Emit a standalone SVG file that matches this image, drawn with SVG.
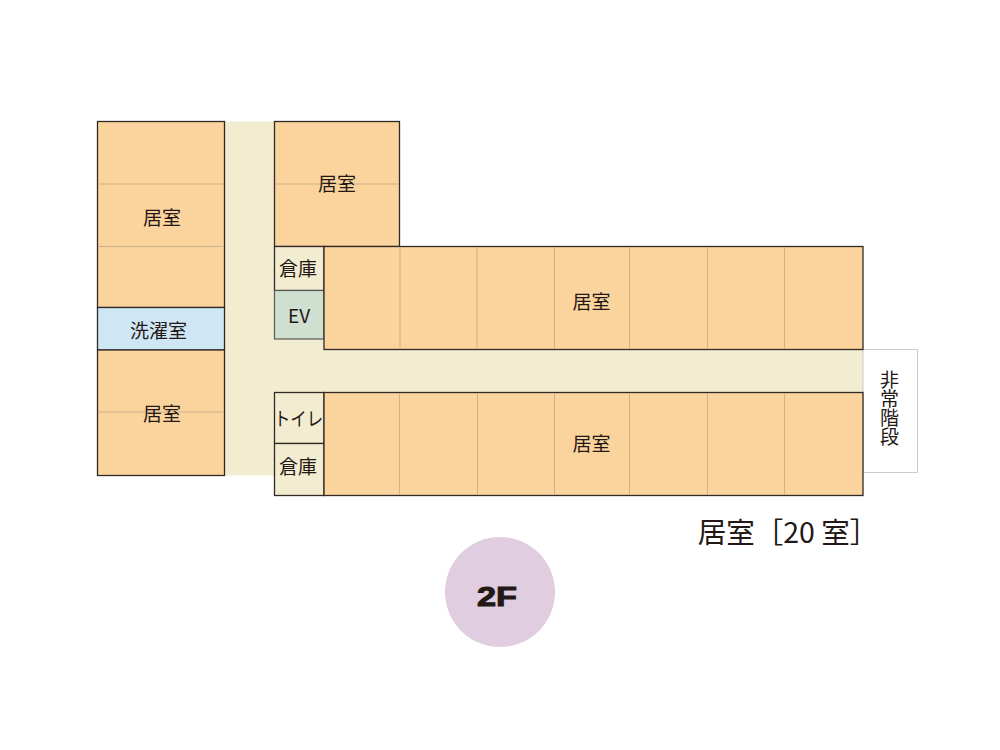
<svg xmlns="http://www.w3.org/2000/svg" width="1000" height="750" viewBox="0 0 1000 750">
<style>
.room{fill:#fbd39c;stroke:#2f2a27;stroke-width:1.300}
.cream{fill:#f2edd0;stroke:#2f2a27;stroke-width:1.300}
.div{stroke:#cdb188;stroke-width:1;fill:none}
text{font-family:"Noto Sans CJK JP","Noto Sans",sans-serif;font-weight:400;fill:#231815;font-size:19px;text-anchor:middle}
.stair{writing-mode:vertical-rl;text-anchor:start}
</style>
<rect width="1000" height="750" fill="#fff"/>
<g id="corridor">
<path d="M224.500 121.500H274V339H324V349.500H863V392.500H274V475.500H224.500Z" fill="#f2edd0"/>
</g>
<g id="stairs">
<rect x="863" y="349.500" width="54.500" height="123" fill="#fff" stroke="#c9caca" stroke-width="1"/>
<text class="stair" x="889.500" y="370.500">非常階段</text>
</g>
<g id="room-left-upper">
<rect class="room" x="97.500" y="121.500" width="127" height="186"/>
<path class="div" d="M98 184H224M98 246.500H224"/>
<text x="162" y="225">居室</text>
</g>
<g id="laundry">
<rect x="97.500" y="307.500" width="127" height="42.500" fill="#cfe6f5" stroke="#2f2a27" stroke-width="1.300"/>
<text x="158.500" y="338">洗濯室</text>
</g>
<g id="room-left-lower">
<rect class="room" x="97.500" y="350" width="127" height="125.500"/>
<path class="div" d="M98 412H224"/>
<text x="162" y="421">居室</text>
</g>
<g id="room-top">
<rect class="room" x="274.500" y="121.500" width="125" height="125"/>
<path class="div" d="M275 184H399"/>
<text x="337" y="190.500">居室</text>
</g>
<g id="storage-1">
<rect class="cream" x="274.500" y="246.500" width="49.500" height="44"/>
<text x="298" y="276">倉庫</text>
</g>
<g id="ev">
<rect x="274.500" y="290.500" width="49.500" height="48.500" fill="#cfe0d0" stroke="#595757" stroke-width="1.200"/>
<text x="299" y="322.500">EV</text>
</g>
<g id="room-east-north">
<rect class="room" x="324" y="246.500" width="539" height="103"/>
<path class="div" d="M400 247V349M477 247V349M554.500 247V349M629.500 247V349M707.500 247V349M784.500 247V349"/>
<text x="591.500" y="308.500">居室</text>
</g>
<g id="toilet">
<rect class="cream" x="274.500" y="392.500" width="49.500" height="51"/>
<text x="298.500" y="426" textLength="49" lengthAdjust="spacingAndGlyphs">トイレ</text>
</g>
<g id="storage-2">
<rect class="cream" x="274.500" y="443.500" width="49.500" height="52"/>
<text x="298" y="473.500">倉庫</text>
</g>
<g id="room-east-south">
<rect class="room" x="324" y="392.500" width="539" height="103"/>
<path class="div" d="M399.500 393V495M477.500 393V495M554.500 393V495M629.500 393V495M707.500 393V495M784.500 393V495"/>
<text x="591.500" y="451">居室</text>
</g>
<g id="legend">
<text x="788" y="542.500" style="font-size:28.500px;font-weight:400">居室［20 室］</text>
</g>
<g id="floor-badge">
<circle cx="500" cy="592" r="55" fill="#e0cde0"/>
<text x="497" y="606" style="font-family:'Liberation Sans',sans-serif;font-weight:700;font-size:27px;stroke:#231815;stroke-width:1" textLength="40" lengthAdjust="spacingAndGlyphs">2F</text>
</g>
<g id="connectors"></g>
</svg>
